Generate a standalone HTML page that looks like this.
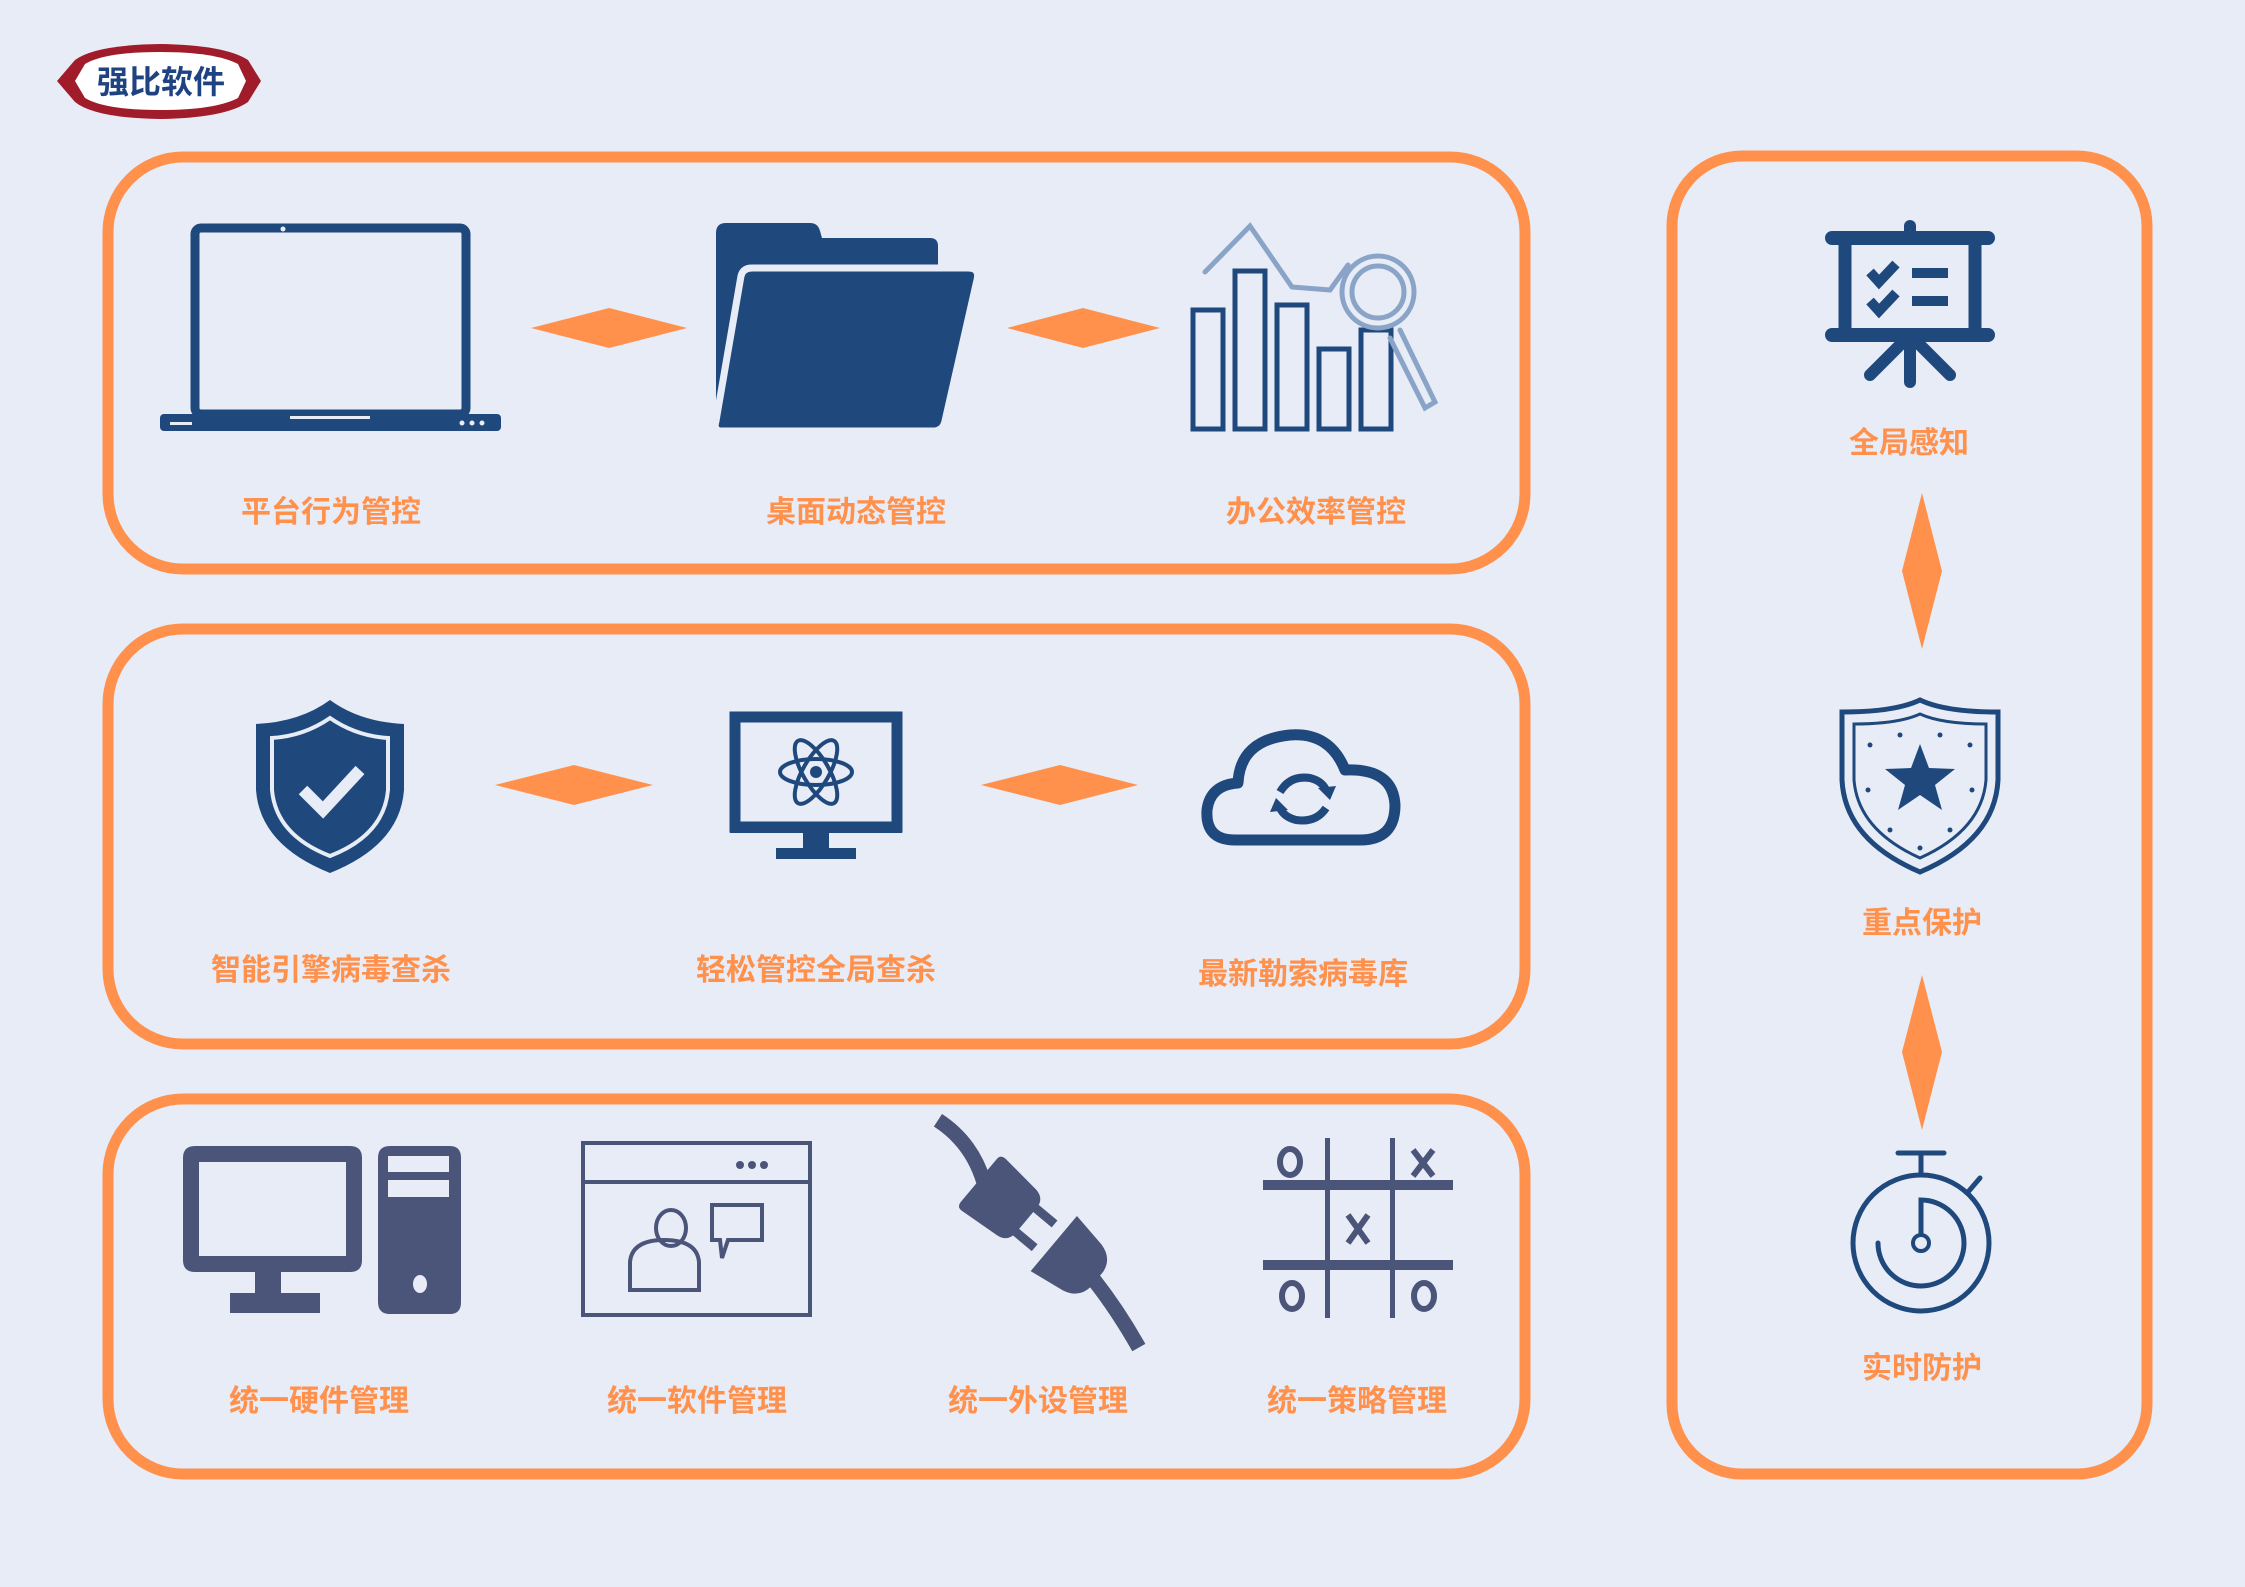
<!DOCTYPE html>
<html><head><meta charset="utf-8"><style>
html,body{margin:0;padding:0;background:#e8ecf6;}
svg{display:block}
text{font-family:"Liberation Sans","Noto Sans CJK SC",sans-serif;font-weight:bold;}
</style></head><body>
<svg width="2245" height="1587" viewBox="0 0 2245 1587" xmlns="http://www.w3.org/2000/svg">
<rect width="2245" height="1587" fill="#e8ecf6"/>
<!-- logo -->
<path d="M75,60 Q95,45 160,44 Q225,45 248,60 L261,81 L248,102 Q225,118 160,119 Q95,118 75,102 L57,81 Z" fill="#a01c2a"/>
<path d="M85,64 Q105,52 160,52 Q215,52 238,64 L246,81 L238,98 Q215,110 160,110 Q105,110 85,98 L75,81 Z" fill="#fff"/>
<text x="161" y="93" font-size="32" fill="#1f4382" text-anchor="middle">强比软件</text>

<!-- boxes -->
<g fill="none" stroke="#ff914d" stroke-width="11">
<rect x="108" y="157" width="1417" height="412" rx="75"/>
<rect x="108" y="629" width="1417" height="415" rx="75"/>
<rect x="108" y="1099" width="1417" height="375" rx="75"/>
<rect x="1672" y="156" width="475" height="1318" rx="70"/>
</g>

<!-- diamonds -->
<g fill="#ff914d">
<polygon points="531,328 609,308 687,328 609,348"/>
<polygon points="1007,328 1083,308 1160,328 1083,348"/>
<polygon points="495,785 574,765 653,785 574,805"/>
<polygon points="981,785 1060,765 1138,785 1060,805"/>
<polygon points="1922,493 1942,571 1922,649 1902,571"/>
<polygon points="1922,975 1942,1052 1922,1130 1902,1052"/>
</g>

<!-- labels -->
<g fill="#ff914d" font-size="30" text-anchor="middle">
<text x="331" y="522">平台行为管控</text>
<text x="856" y="522">桌面动态管控</text>
<text x="1316" y="522">办公效率管控</text>
<text x="331" y="980">智能引擎病毒查杀</text>
<text x="816" y="980">轻松管控全局查杀</text>
<text x="1303" y="984">最新勒索病毒库</text>
<text x="319" y="1411">统一硬件管理</text>
<text x="697" y="1411">统一软件管理</text>
<text x="1038" y="1411">统一外设管理</text>
<text x="1357" y="1411">统一策略管理</text>
<text x="1909" y="453">全局感知</text>
<text x="1922" y="933">重点保护</text>
<text x="1922" y="1378">实时防护</text>
</g>

<!-- laptop -->
<g fill="#1f497d">
<rect x="195" y="228" width="271" height="186" rx="6" fill="none" stroke="#1f497d" stroke-width="9"/>
<circle cx="283" cy="229" r="2.5" fill="#e8ecf6"/>
<rect x="160" y="414" width="341" height="17" rx="4"/>
<rect x="290" y="416" width="80" height="3" fill="#e8ecf6"/>
<rect x="170" y="422" width="22" height="3" fill="#e8ecf6"/>
<circle cx="462" cy="423" r="2.5" fill="#e8ecf6"/><circle cx="472" cy="423" r="2.5" fill="#e8ecf6"/><circle cx="482" cy="423" r="2.5" fill="#e8ecf6"/>
</g>
<!-- folder -->
<g fill="#1f497d">
<path d="M716,233 Q716,223 726,223 L810,223 Q818,223 820,231 L822,238 L930,238 Q938,238 938,246 L938,300 L745,431 L716,431 Z"/>
<path d="M752,268 L968,268 Q980,268 977,280 L945,421 Q943,431 933,431 L722,431 Q713,431 716,421 L741,276 Q743,268 752,268 Z" stroke="#e8ecf6" stroke-width="7"/>
</g>
<!-- chart -->
<g fill="none" stroke="#1f497d" stroke-width="5">
<rect x="1193" y="310" width="30" height="119"/>
<rect x="1235" y="271" width="30" height="158"/>
<rect x="1277" y="305" width="30" height="124"/>
<rect x="1319" y="349" width="30" height="80"/>
<rect x="1361" y="330" width="30" height="99"/>
</g>
<g fill="none" stroke="#8aa4c8" stroke-width="5" stroke-linecap="round">
<polyline points="1205,272 1250,226 1292,287 1330,290 1348,265"/>
<circle cx="1378" cy="292" r="36"/>
<circle cx="1378" cy="292" r="26"/>
<path d="M1400,330 L1435,402 L1425,408 L1390,338"/>
</g>

<!-- shield check -->
<path d="M330,700 Q360,722 404,724 L404,790 Q400,845 330,873 Q260,845 256,790 L256,724 Q300,722 330,700 Z" fill="#1f497d"/>
<path d="M330,718 Q356,736 388,738 L388,790 Q384,835 330,856 Q276,835 272,790 L272,738 Q304,736 330,718 Z" fill="none" stroke="#e8ecf6" stroke-width="4"/>
<polyline points="303,790 323,810 360,770" fill="none" stroke="#e8ecf6" stroke-width="12"/>
<!-- monitor -->
<g>
<rect x="735" y="717" width="162" height="110" fill="none" stroke="#1f497d" stroke-width="11"/>
<rect x="730" y="825" width="172" height="8" fill="#1f497d"/>
<rect x="803" y="833" width="26" height="18" fill="#1f497d"/>
<rect x="776" y="848" width="80" height="11" fill="#1f497d"/>
<g fill="none" stroke="#1f497d" stroke-width="4">
<ellipse cx="816" cy="772" rx="36" ry="13"/>
<ellipse cx="816" cy="772" rx="36" ry="13" transform="rotate(60 816 772)"/>
<ellipse cx="816" cy="772" rx="36" ry="13" transform="rotate(-60 816 772)"/>
</g>
<circle cx="816" cy="772" r="6" fill="#1f497d"/>
</g>
<!-- cloud -->
<path d="M1235,840 Q1205,840 1207,810 Q1210,785 1238,783 Q1240,740 1290,735 Q1330,732 1345,770 Q1393,768 1395,805 Q1395,840 1360,840 Z" fill="none" stroke="#1f497d" stroke-width="11" stroke-linejoin="round"/>
<g fill="none" stroke="#1f497d" stroke-width="8">
<path d="M1280,792 Q1290,775 1310,778 Q1322,781 1326,790"/>
<path d="M1326,808 Q1316,823 1296,820 Q1284,817 1280,808"/>
</g>
<polygon points="1318,788 1336,786 1330,800" fill="#1f497d"/>
<polygon points="1288,810 1270,812 1276,798" fill="#1f497d"/>

<!-- box3 icons -->
<g fill="#4b5479">
<path d="M183,1158 Q183,1146 195,1146 L350,1146 Q362,1146 362,1158 L362,1260 Q362,1272 350,1272 L195,1272 Q183,1272 183,1260 Z M199,1162 L346,1162 L346,1256 L199,1256 Z" fill-rule="evenodd"/>
<rect x="255" y="1272" width="26" height="26"/>
<rect x="230" y="1293" width="90" height="20"/>
<path d="M378,1158 Q378,1146 390,1146 L450,1146 Q461,1146 461,1158 L461,1302 Q461,1314 450,1314 L390,1314 Q378,1314 378,1302 Z M388,1156 L449,1156 L449,1172 L388,1172 Z M388,1180 L449,1180 L449,1197 L388,1197 Z" fill-rule="evenodd"/>
<ellipse cx="420" cy="1284" rx="7" ry="9" fill="#e8ecf6"/>
</g>
<g fill="none" stroke="#4b5479" stroke-width="4">
<rect x="583" y="1143" width="227" height="172"/>
<line x1="583" y1="1182" x2="810" y2="1182"/>
<ellipse cx="671" cy="1228" rx="15" ry="18"/>
<path d="M630,1290 L630,1262 Q632,1240 664,1240 Q697,1240 699,1262 L699,1290 Z"/>
<path d="M712,1205 L762,1205 L762,1240 L728,1240 L722,1258 L720,1240 L712,1240 Z"/>
</g>
<g fill="#4b5479"><circle cx="740" cy="1165" r="4"/><circle cx="752" cy="1165" r="4"/><circle cx="764" cy="1165" r="4"/></g>
<!-- plug -->
<g transform="translate(1040,1232) rotate(40)" fill="#4b5479">
<path d="M-150,-20 Q-110,-25 -75,-2" fill="none" stroke="#4b5479" stroke-width="15"/>
<path d="M-80,-28 Q-80,-34 -74,-34 L-30,-30 Q-18,-28 -18,-16 L-18,16 Q-18,28 -30,30 L-74,34 Q-80,34 -80,28 Z"/>
<rect x="-20" y="-20" width="26" height="9"/>
<rect x="-20" y="11" width="26" height="9"/>
<path d="M18,-36 L55,-30 Q72,-26 74,-10 L74,10 Q72,26 55,30 L18,36 Z"/>
<path d="M72,2 Q110,10 150,25" fill="none" stroke="#4b5479" stroke-width="15"/>
</g>
<g fill="#4b5479">
<rect x="1263" y="1180" width="190" height="10"/>
<rect x="1263" y="1260" width="190" height="10"/>
<rect x="1325" y="1138" width="5" height="180"/>
<rect x="1390" y="1138" width="5" height="180"/>
</g>
<g fill="none" stroke="#4b5479" stroke-width="6">
<ellipse cx="1290" cy="1162" rx="10" ry="13"/>
<ellipse cx="1292" cy="1296" rx="10" ry="13"/>
<ellipse cx="1424" cy="1296" rx="10" ry="13"/>
<path d="M1413,1150 L1433,1176 M1433,1150 L1413,1176"/>
<path d="M1348,1215 L1368,1243 M1368,1215 L1348,1243"/>
</g>

<!-- right icons -->
<g stroke="#1f497d" stroke-linecap="round" fill="none">
<line x1="1832" y1="238" x2="1988" y2="238" stroke-width="14"/>
<line x1="1832" y1="335" x2="1988" y2="335" stroke-width="14"/>
<rect x="1845" y="238" width="130" height="97" stroke-width="13"/>
<line x1="1910" y1="340" x2="1910" y2="382" stroke-width="12"/>
<line x1="1905" y1="340" x2="1870" y2="375" stroke-width="12"/>
<line x1="1915" y1="340" x2="1950" y2="375" stroke-width="12"/>
<line x1="1910" y1="226" x2="1910" y2="238" stroke-width="12"/>
<polyline points="1870,272 1879,282 1896,264" stroke-width="10" stroke-linecap="butt"/>
<polyline points="1870,301 1879,311 1896,293" stroke-width="10" stroke-linecap="butt"/>
<line x1="1912" y1="273" x2="1948" y2="273" stroke-width="10" stroke-linecap="butt"/>
<line x1="1912" y1="301" x2="1948" y2="301" stroke-width="10" stroke-linecap="butt"/>
</g>
<path d="M1920,700 Q1945,712 1998,712 L1998,780 Q1995,840 1920,872 Q1845,840 1842,780 L1842,712 Q1895,712 1920,700 Z" fill="none" stroke="#1f497d" stroke-width="5"/>
<path d="M1920,714 Q1942,724 1986,724 L1986,780 Q1982,830 1920,858 Q1858,830 1854,780 L1854,724 Q1898,724 1920,714 Z" fill="none" stroke="#1f497d" stroke-width="3"/>
<polygon points="1920,744 1929,768 1955,769 1935,785 1942,810 1920,795 1898,810 1905,785 1885,769 1911,768" fill="#1f497d"/>
<g fill="#1f497d"><circle cx="1870" cy="745" r="2.5"/><circle cx="1970" cy="745" r="2.5"/><circle cx="1868" cy="790" r="2.5"/><circle cx="1972" cy="790" r="2.5"/><circle cx="1890" cy="830" r="2.5"/><circle cx="1950" cy="830" r="2.5"/><circle cx="1920" cy="848" r="2.5"/><circle cx="1900" cy="735" r="2.5"/><circle cx="1940" cy="735" r="2.5"/></g>
<g fill="none" stroke="#1f497d" stroke-width="5" stroke-linecap="round">
<circle cx="1921" cy="1243" r="68"/>
<path d="M1921,1243 L1921,1200 A43,43 0 1 1 1878,1243"/>
<line x1="1898" y1="1153" x2="1944" y2="1153"/>
<line x1="1921" y1="1153" x2="1921" y2="1175"/>
<line x1="1968" y1="1192" x2="1980" y2="1178"/>
</g>
<circle cx="1921" cy="1243" r="8" fill="#e8ecf6" stroke="#1f497d" stroke-width="4"/>
</svg>
</body></html>
